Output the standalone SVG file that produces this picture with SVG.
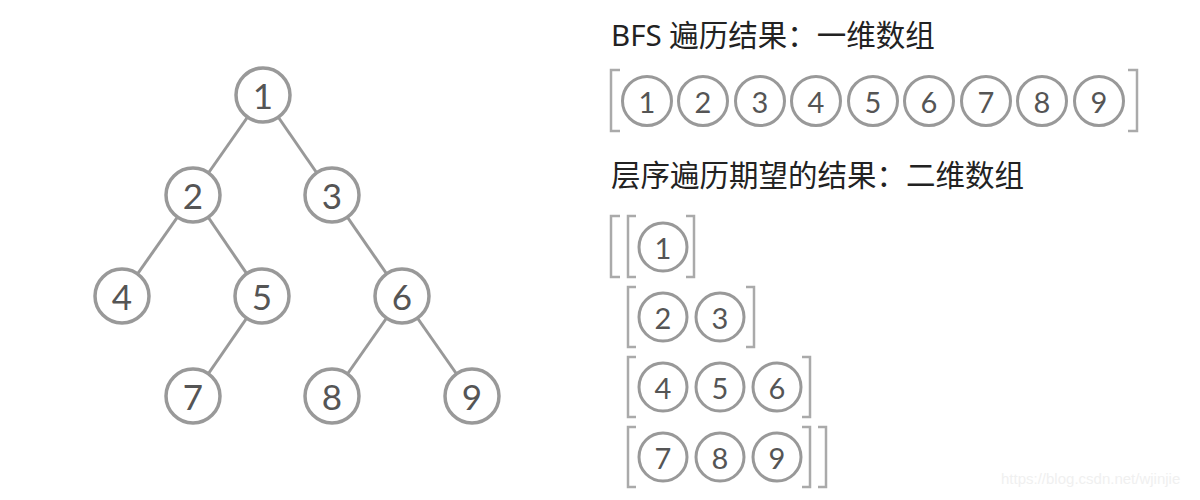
<svg xmlns="http://www.w3.org/2000/svg" width="1200" height="500" viewBox="0 0 1200 500">
<style>
.n circle{fill:#fff;stroke:#999;stroke-width:3.5}
.n text{font-family:Lato,"Liberation Sans",sans-serif;font-size:35px;fill:#555;text-anchor:middle;dominant-baseline:central}
.s circle{fill:#fff;stroke:#999;stroke-width:3}
.s text{font-family:Lato,"Liberation Sans",sans-serif;font-size:29px;fill:#555;text-anchor:middle;dominant-baseline:central}
.e line{stroke:#999;stroke-width:3}
.b path{fill:none;stroke:#aaa;stroke-width:2.5}
.t{font-family:"Noto Sans","Noto Sans CJK SC",sans-serif;font-size:29.5px;fill:#222}
.w{font-family:"Liberation Sans",Arial,sans-serif;font-size:15px;fill:#f0f0f0}
</style>
<g id="connectors" class="e">
<line x1="263" y1="95" x2="193" y2="195"/>
<line x1="263" y1="95" x2="332" y2="195"/>
<line x1="193" y1="195" x2="122" y2="296"/>
<line x1="193" y1="195" x2="262" y2="296"/>
<line x1="332" y1="195" x2="402" y2="296"/>
<line x1="262" y1="296" x2="193" y2="396"/>
<line x1="402" y1="296" x2="332" y2="396"/>
<line x1="402" y1="296" x2="472" y2="396"/>
</g>
<g id="node1" class="n"><circle cx="263" cy="95" r="27"/><text x="263" y="95">1</text></g>
<g id="node2" class="n"><circle cx="193" cy="195" r="27"/><text x="193" y="195">2</text></g>
<g id="node3" class="n"><circle cx="332" cy="195" r="27"/><text x="332" y="195">3</text></g>
<g id="node4" class="n"><circle cx="122" cy="296" r="27"/><text x="122" y="296">4</text></g>
<g id="node5" class="n"><circle cx="262" cy="296" r="27"/><text x="262" y="296">5</text></g>
<g id="node6" class="n"><circle cx="402" cy="296" r="27"/><text x="402" y="296">6</text></g>
<g id="node7" class="n"><circle cx="193" cy="396" r="27"/><text x="193" y="396">7</text></g>
<g id="node8" class="n"><circle cx="332" cy="396" r="27"/><text x="332" y="396">8</text></g>
<g id="node9" class="n"><circle cx="472" cy="396" r="27"/><text x="472" y="396">9</text></g>

<text class="t" x="611" y="46">BFS 遍历结果：一维数组</text>
<g id="array1d">
<g class="b"><path d="M620 70 H611 V131 H620"/><path d="M1128 70 H1137 V131 H1128"/></g>
<g class="s"><circle cx="647" cy="101" r="24.5"/><text x="647" y="101">1</text></g>
<g class="s"><circle cx="703" cy="101" r="24.5"/><text x="703" y="101">2</text></g>
<g class="s"><circle cx="760" cy="101" r="24.5"/><text x="760" y="101">3</text></g>
<g class="s"><circle cx="816" cy="101" r="24.5"/><text x="816" y="101">4</text></g>
<g class="s"><circle cx="873" cy="101" r="24.5"/><text x="873" y="101">5</text></g>
<g class="s"><circle cx="929" cy="101" r="24.5"/><text x="929" y="101">6</text></g>
<g class="s"><circle cx="986" cy="101" r="24.5"/><text x="986" y="101">7</text></g>
<g class="s"><circle cx="1042" cy="101" r="24.5"/><text x="1042" y="101">8</text></g>
<g class="s"><circle cx="1099" cy="101" r="24.5"/><text x="1099" y="101">9</text></g>
</g>

<text class="t" x="611" y="186">层序遍历期望的结果：二维数组</text>
<g id="array2d">
<g class="b">
<path d="M620 216 H611 V277 H620"/>
<path d="M636 216 H628 V277 H636"/><path d="M686 216 H694 V277 H686"/>
<path d="M636 287 H628 V347 H636"/><path d="M746 287 H754 V347 H746"/>
<path d="M636 357 H628 V417 H636"/><path d="M802 357 H810 V417 H802"/>
<path d="M636 427 H628 V487 H636"/><path d="M802 427 H810 V487 H802"/>
<path d="M818 427 H826 V487 H818"/>
</g>
<g class="s"><circle cx="663" cy="247" r="24"/><text x="663" y="247">1</text></g>
<g class="s"><circle cx="663" cy="317" r="24"/><text x="663" y="317">2</text></g>
<g class="s"><circle cx="720" cy="317" r="24"/><text x="720" y="317">3</text></g>
<g class="s"><circle cx="663" cy="387" r="24"/><text x="663" y="387">4</text></g>
<g class="s"><circle cx="720" cy="387" r="24"/><text x="720" y="387">5</text></g>
<g class="s"><circle cx="777" cy="387" r="24"/><text x="777" y="387">6</text></g>
<g class="s"><circle cx="663" cy="457" r="24"/><text x="663" y="457">7</text></g>
<g class="s"><circle cx="720" cy="457" r="24"/><text x="720" y="457">8</text></g>
<g class="s"><circle cx="777" cy="457" r="24"/><text x="777" y="457">9</text></g>
</g>
<text class="w" x="1001" y="484">https://blog.csdn.net/wjinjie</text>
</svg>
